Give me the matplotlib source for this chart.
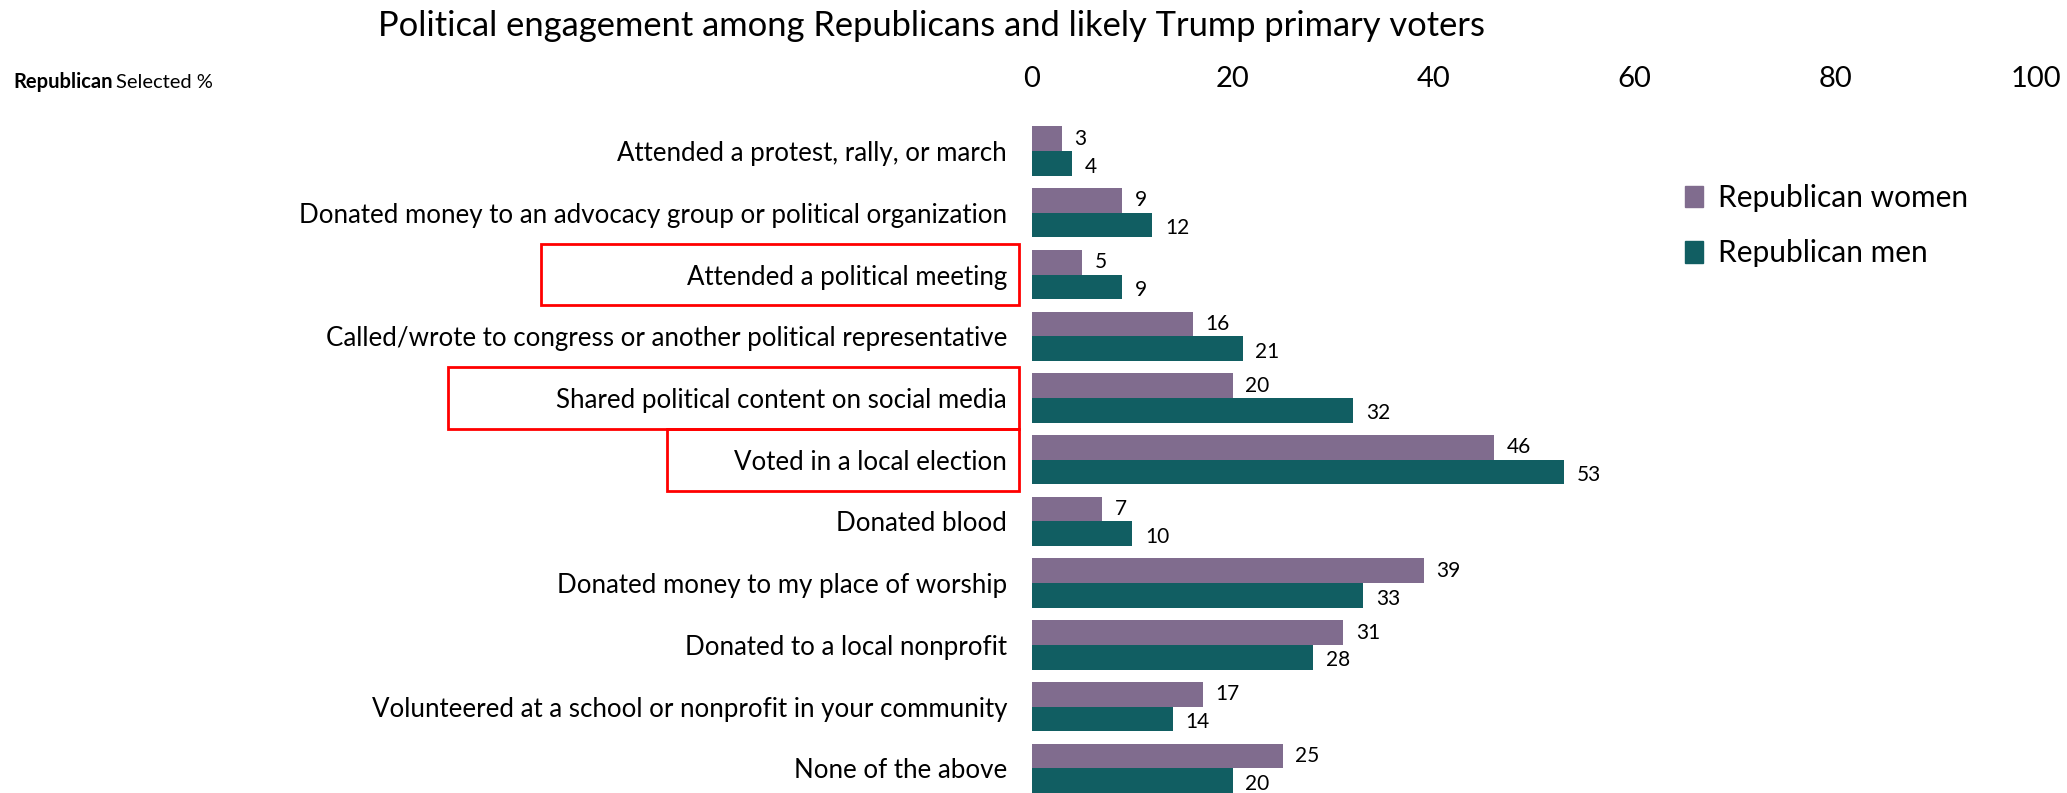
import matplotlib
matplotlib.use("Agg")
import matplotlib.pyplot as plt
import matplotlib.transforms as mtransforms
from matplotlib.patches import Rectangle, Patch
import numpy as np

plt.rcParams['font.family'] = ['Lato', 'DejaVu Sans']

categories = [
    "Attended a protest, rally, or march",
    "Donated money to an advocacy group or political organization",
    "Attended a political meeting",
    "Called/wrote to congress or another political representative",
    "Shared political content on social media",
    "Voted in a local election",
    "Donated blood",
    "Donated money to my place of worship",
    "Donated to a local nonprofit",
    "Volunteered at a school or nonprofit in your community",
    "None of the above",
]
women = [3, 9, 5, 16, 20, 46, 7, 39, 31, 17, 25]
men = [4, 12, 9, 21, 32, 53, 10, 33, 28, 14, 20]
series_labels = ["Republican women", "Republican men"]
x_ticks = [0, 20, 40, 60, 80, 100]
highlighted = ["Attended a political meeting",
               "Shared political content on social media",
               "Voted in a local election"]

C_WOMEN = "#806C8E"
C_MEN = "#115E62"

W, H = 2067, 793
fig = plt.figure(figsize=(W / 100, H / 100), dpi=100)
ax = fig.add_axes([1032 / W, 0.0, (2036 - 1032) / W, 1 - 98 / H])

y = np.arange(len(categories))
bh = 0.4
bw = ax.barh(y - bh / 2, women, height=bh, color=C_WOMEN, label=series_labels[0])
bm = ax.barh(y + bh / 2, men, height=bh, color=C_MEN, label=series_labels[1])

for rect, v in zip(bw, women):
    ax.annotate(f"{v}", (rect.get_width(), rect.get_y() + rect.get_height() / 2),
                xytext=(9, 0), textcoords="offset points", va="center", ha="left",
                fontsize=15)
for rect, v in zip(bm, men):
    ax.annotate(f"{v}", (rect.get_width(), rect.get_y() + rect.get_height() / 2 + 0.05),
                xytext=(9, 0), textcoords="offset points", va="center", ha="left",
                fontsize=15)

ax.set_xlim(0, 100)
ax.set_ylim(10.4, -0.86)
ax.set_xticks(x_ticks)
ax.xaxis.tick_top()
ax.tick_params(axis='x', length=0, pad=4, labelsize=21)
ax.set_yticks(y)
ax.set_yticklabels(categories)
ax.tick_params(axis='y', length=0, pad=18, labelsize=18.6)
for s in ax.spines.values():
    s.set_visible(False)

# red highlight boxes (x in figure pixels, y in data units)
box_left = {"Attended a political meeting": 541,
            "Shared political content on social media": 448,
            "Voted in a local election": 667}
trans = mtransforms.blended_transform_factory(fig.transFigure, ax.transData)
for name in highlighted:
    i = categories.index(name)
    x0 = box_left[name] / W
    x1 = 1019 / W
    r = Rectangle((x0, i - 0.5), x1 - x0, 1.0, transform=trans, fill=False,
                  edgecolor="#FF0000", lw=2, clip_on=False)
    fig.add_artist(r)

# legend
handles = [Patch(color=C_WOMEN), Patch(color=C_MEN)]
fig.legend(handles, series_labels, loc="upper left",
           bbox_to_anchor=(1658 / W, 1 - 157 / H), frameon=False, fontsize=21.5,
           handlelength=0.6, handleheight=0.75, handletextpad=0.5, labelspacing=0.92)

fig.text(932 / W, 1 - 26 / H,
         "Political engagement among Republicans and likely Trump primary voters",
         ha="center", va="center", fontsize=24.8)

t1 = fig.text(13 / W, 1 - 82 / H, "Republican", ha="left", va="center",
              fontsize=14.5, fontweight="bold")
fig.canvas.draw()
bb = t1.get_window_extent()
fig.text(bb.x1 / W + 4 / W, 1 - 82 / H, "Selected %", ha="left", va="center", fontsize=14.5)

fig.savefig("out.png", dpi=100)
